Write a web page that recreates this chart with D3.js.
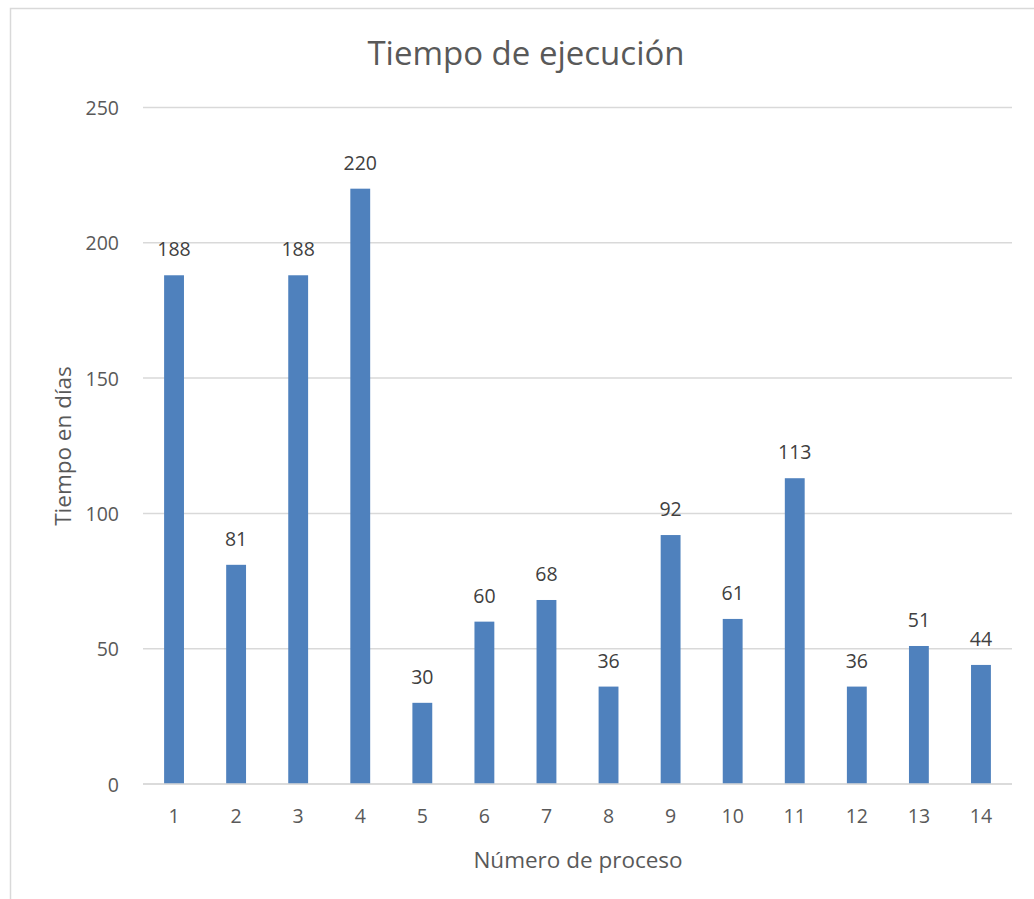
<!DOCTYPE html>
<html>
<head>
<meta charset="utf-8">
<script src="https://cdn.jsdelivr.net/npm/d3@7"></script>
<style>
  html, body { margin: 0; padding: 0; background: #fff; }
  svg { display: block; }
  text { font-family: "Open Sans", "Noto Sans", "Liberation Sans", sans-serif; }
</style>
</head>
<body>
<svg id="chart" width="1034" height="899"></svg>
<script>
// Process numbers and execution time in days
const procesos = ["1","2","3","4","5","6","7","8","9","10","11","12","13","14"];
const dias = [188, 81, 188, 220, 30, 60, 68, 36, 92, 61, 113, 36, 51, 44];
const yTicks = [0, 50, 100, 150, 200, 250];

const svg = d3.select("#chart");
const W = 1034, H = 899;

// Outer chart frame
svg.append("rect")
  .attr("x", 10.5).attr("y", 8.5)
  .attr("width", W).attr("height", H)
  .attr("fill", "#fff").attr("stroke", "#D9D9D9").attr("stroke-width", 1.5);

const plot = { left: 143, right: 1012, top: 107.5, bottom: 784 };

const x = d3.scaleBand()
  .domain(procesos)
  .range([plot.left, plot.right])
  .paddingInner(0.68)
  .paddingOuter(0.34);

const y = d3.scaleLinear()
  .domain([0, 250])
  .range([plot.bottom, plot.top]);

// Horizontal gridlines
svg.append("g")
  .selectAll("line")
  .data(yTicks)
  .join("line")
  .attr("x1", plot.left).attr("x2", plot.right)
  .attr("y1", d => y(d)).attr("y2", d => y(d))
  .attr("stroke", "#D9D9D9").attr("stroke-width", 1.5);

// Y axis labels
const yAxis = d3.axisLeft(y).tickValues(yTicks).tickSize(0).tickPadding(0);
const gy = svg.append("g").attr("transform", `translate(${plot.left - 24},0)`).call(yAxis);
gy.select(".domain").remove();
gy.selectAll("text")
  .attr("fill", "#595959").attr("font-size", 19.5).attr("dy", 7);

// Bars
svg.append("g")
  .selectAll("rect")
  .data(dias)
  .join("rect")
  .attr("x", (d, i) => x(procesos[i]))
  .attr("width", x.bandwidth())
  .attr("y", d => y(d))
  .attr("height", d => y(0) - y(d))
  .attr("fill", "#4F81BD");

// Baseline over the bars
svg.append("line")
  .attr("x1", plot.left).attr("x2", plot.right)
  .attr("y1", y(0)).attr("y2", y(0))
  .attr("stroke", "#D9D9D9").attr("stroke-width", 1.5);

// Value labels
svg.append("g")
  .selectAll("text")
  .data(dias)
  .join("text")
  .attr("x", (d, i) => x(procesos[i]) + x.bandwidth() / 2)
  .attr("y", d => y(d) - 19)
  .attr("text-anchor", "middle")
  .attr("fill", "#404040")
  .attr("font-size", 19.5)
  .text(d => d);

// X axis labels
const xAxis = d3.axisBottom(x).tickSize(0).tickPadding(0);
const gx = svg.append("g").attr("transform", `translate(0,${plot.bottom})`).call(xAxis);
gx.select(".domain").remove();
gx.selectAll("text")
  .attr("fill", "#595959").attr("font-size", 19.5).attr("y", 39).attr("dy", 0);

// Title
svg.append("text")
  .attr("x", 526).attr("y", 65)
  .attr("text-anchor", "middle")
  .attr("fill", "#595959")
  .attr("font-size", 33)
  .text("Tiempo de ejecución");

// Axis titles
svg.append("text")
  .attr("x", 578).attr("y", 868)
  .attr("text-anchor", "middle")
  .attr("fill", "#595959")
  .attr("font-size", 22.5)
  .text("Número de proceso");

svg.append("text")
  .attr("transform", `translate(71,446) rotate(-90)`)
  .attr("text-anchor", "middle")
  .attr("fill", "#595959")
  .attr("font-size", 22.5)
  .text("Tiempo en días");
</script>
</body>
</html>
